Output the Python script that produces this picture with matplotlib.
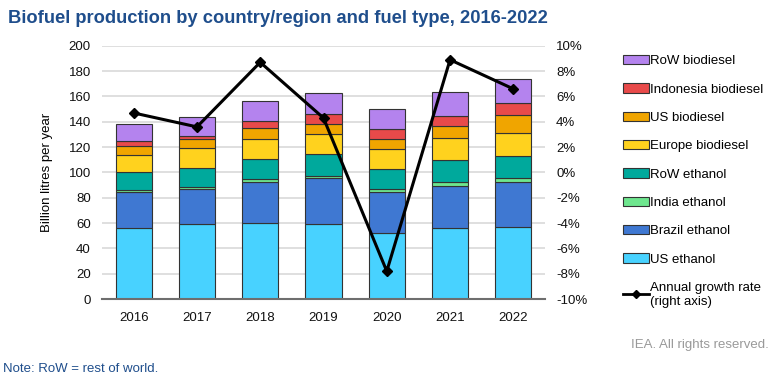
import numpy as np
import matplotlib.pyplot as plt
from matplotlib.patches import Patch
from matplotlib.lines import Line2D

plt.rcParams['font.family'] = ['Liberation Sans', 'DejaVu Sans']

# Biofuel production (billion litres per year), stacked, plus annual growth rate

years = ['2016', '2017', '2018', '2019', '2020', '2021', '2022']

us_ethanol = np.array([56.2, 59.4, 60.2, 59.6, 52.2, 56.2, 56.7])
brazil_ethanol = np.array([28.5, 27.6, 32.4, 35.7, 32.5, 33.2, 35.9])
india_ethanol = np.array([1.6, 1.4, 1.9, 2.1, 2.1, 3.2, 3.2])
row_ethanol = np.array([14.2, 15.3, 15.8, 16.8, 15.8, 17.4, 17.4])
europe_biodiesel = np.array([13.5, 15.3, 16.3, 16.4, 15.6, 17.2, 17.7])
us_biodiesel = np.array([7.0, 7.4, 8.2, 7.9, 8.2, 9.5, 14.5])
indonesia_biodiesel = np.array([3.5, 2.6, 6.1, 7.9, 7.9, 8.2, 9.5])
row_biodiesel = np.array([14.0, 14.5, 15.3, 16.4, 15.8, 18.4, 19.2])

growth_rate = np.array([4.7, 3.6, 8.7, 4.3, -7.8, 8.9, 6.6])

series = [
    ("US ethanol", us_ethanol, "#48D2FF"),
    ("Brazil ethanol", brazil_ethanol, "#3F78D2"),
    ("India ethanol", india_ethanol, "#6EE68E"),
    ("RoW ethanol", row_ethanol, "#00A99C"),
    ("Europe biodiesel", europe_biodiesel, "#FFD21E"),
    ("US biodiesel", us_biodiesel, "#F0A500"),
    ("Indonesia biodiesel", indonesia_biodiesel, "#E84A4A"),
    ("RoW biodiesel", row_biodiesel, "#B483EE"),
]

fig = plt.figure(figsize=(7.73, 3.82), dpi=100)
ax = fig.add_axes([0.132, 0.217, 0.573, 0.663])

x = np.arange(len(years))
bottom = np.zeros(len(years))
for name, vals, color in series:
    ax.bar(x, vals, 0.57, bottom=bottom, color=color, edgecolor='#333333',
           linewidth=0.8, zorder=2)
    bottom += vals

ax.set_ylim(0, 200)
ax.set_xlim(-0.5, 6.5)
ax.set_yticks(np.arange(0, 201, 20))
ax.set_xticks(x)
ax.set_xticklabels(years)
ax.yaxis.grid(True, color='#D9D9D9', linewidth=1.2, zorder=0)
ax.set_axisbelow(True)
for s in ['top', 'right', 'left']:
    ax.spines[s].set_visible(False)
ax.spines['bottom'].set_color('#6E6E6E')
ax.spines['bottom'].set_linewidth(1.5)
ax.tick_params(axis='both', length=0, labelsize=9.5, colors='#111111')
ax.tick_params(axis='x', pad=9)
ax.tick_params(axis='y', pad=8)
ax.set_ylabel("Billion litres per year", fontsize=9.5, labelpad=11)

ax2 = ax.twinx()
ax2.plot(x, growth_rate, color='black', linewidth=2.2, marker='D',
         markersize=5.5, zorder=5)
ax2.set_ylim(-10, 10)
ax2.set_yticks(np.arange(-10, 11, 2))
ax2.set_yticklabels([f"{v}%" for v in range(-10, 11, 2)])
for s in ax2.spines.values():
    s.set_visible(False)
ax2.tick_params(axis='y', length=0, labelsize=9.5, pad=8, colors='#111111')

handles = [Patch(facecolor=c, edgecolor='#333333', linewidth=0.8, label=n)
           for n, _, c in series[::-1]]
handles.append(Line2D([0], [0], color='black', linewidth=2, marker='D',
                      markersize=4, label="Annual growth rate\n(right axis)"))
fig.legend(handles=handles, loc='upper left', bbox_to_anchor=(0.79, 0.887),
           frameon=False, fontsize=9.5, handlelength=2.0, handleheight=0.7,
           handletextpad=0.1, labelspacing=1.22)

fig.text(0.01, 0.975, "Biofuel production by country/region and fuel type, 2016-2022",
         fontsize=13.2, fontweight='bold', color='#1F4E8C', va='top')
fig.text(0.004, 0.025, "Note: RoW = rest of world.", fontsize=9.5, color='#1F4E8C')
fig.text(0.995, 0.09, "IEA. All rights reserved.", fontsize=9.5, color='#999999',
         ha='right')

fig.savefig("out.png", dpi=100)
